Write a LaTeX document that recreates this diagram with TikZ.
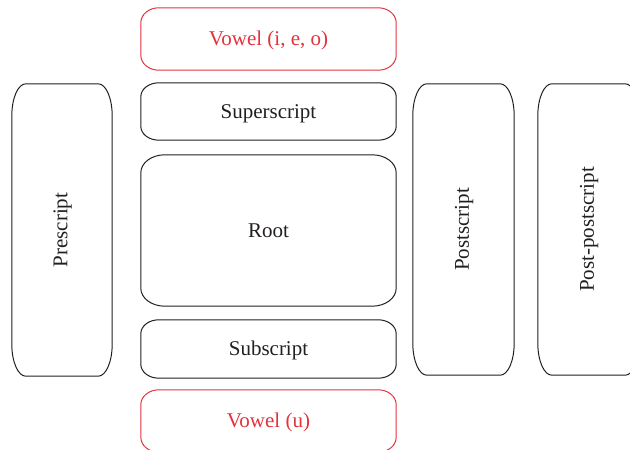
\documentclass[tikz,border=0pt]{standalone}
\usepackage{fontspec}
\setmainfont{Liberation Serif}
\definecolor{ink}{RGB}{35,31,32}
\definecolor{vred}{RGB}{228,50,60}
\tikzset{
  slot/.style={shape=rectangle, inner sep=0pt, font=\fontsize{21}{25}\selectfont, text=ink},
  vowel/.style={slot, text=vred},
}
\newcommand{\dn}[1]{\raisebox{-7pt}[0pt][0pt]{#1}}
\newcommand{\up}[1]{\hspace*{1.5pt}\rotatebox{90}{#1}}
\newcommand{\ebox}[4]{% node, rx, ry, color
  \draw[#4, line width=1pt]
    ([xshift=#2]#1.north west) -- ([xshift=-#2]#1.north east)
    arc[start angle=90, end angle=0, x radius=#2, y radius=#3]
    -- ([yshift=#3]#1.south east)
    arc[start angle=0, end angle=-90, x radius=#2, y radius=#3]
    -- ([xshift=#2]#1.south west)
    arc[start angle=270, end angle=180, x radius=#2, y radius=#3]
    -- ([yshift=-#3]#1.north west)
    arc[start angle=180, end angle=90, x radius=#2, y radius=#3]
    -- cycle;}
\begin{document}
\begin{tikzpicture}[x=1pt, y=1pt]
\clip (0,0) rectangle (630,450);
\node[vowel, minimum width=255pt, minimum height=62pt] (vtop) at (268.5,411) {\dn{Vowel (i, e, o)}};
\node[slot, minimum width=255pt, minimum height=57pt] (sup) at (268.5,338.5) {\dn{Superscript}};
\node[slot, minimum width=255pt, minimum height=151pt] (root) at (268.5,219.5) {\dn{Root}};
\node[slot, minimum width=255pt, minimum height=58pt] (sub) at (268.5,101) {\dn{Subscript}};
\node[vowel, minimum width=255pt, minimum height=62pt] (vbot) at (268.5,29) {\dn{Vowel (u)}};
\node[slot, minimum width=100pt, minimum height=292pt] (pre) at (62,220) {\up{Prescript}};
\node[slot, minimum width=101pt, minimum height=291pt] (post) at (463.5,220.5) {\up{Postscript}};
\node[slot, minimum width=101pt, minimum height=291pt] (ppost) at (588.5,220.5) {\up{Post-postscript}};
\ebox{vtop}{18pt}{15pt}{vred}
\ebox{vbot}{18pt}{15pt}{vred}
\ebox{sup}{18pt}{14pt}{ink}
\ebox{sub}{18pt}{14pt}{ink}
\ebox{root}{24pt}{18pt}{ink}
\ebox{pre}{14pt}{32pt}{ink}
\ebox{post}{14pt}{32pt}{ink}
\ebox{ppost}{14pt}{32pt}{ink}
\end{tikzpicture}
\end{document}
